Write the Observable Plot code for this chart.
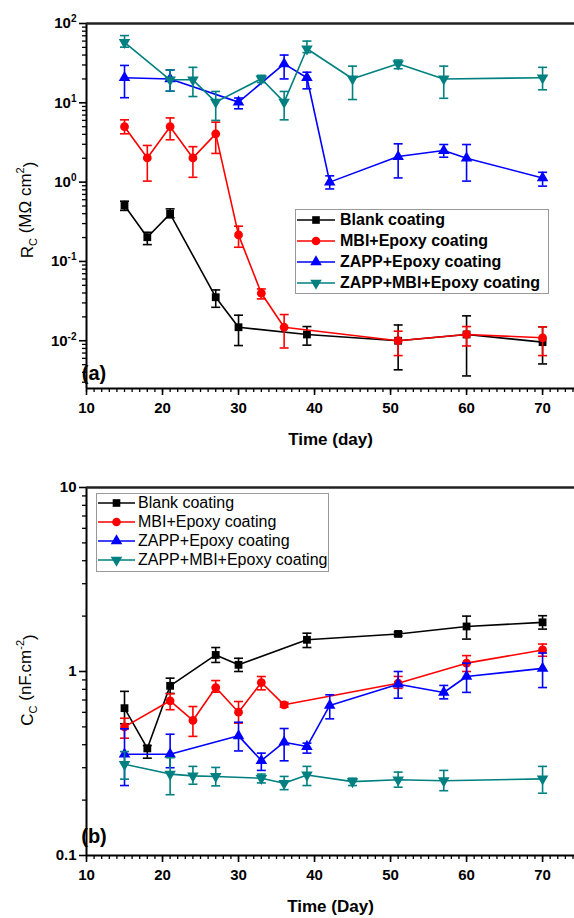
<!DOCTYPE html>
<html><head><meta charset="utf-8">
<script src="https://cdn.jsdelivr.net/npm/d3@7"></script>
<script src="https://cdn.jsdelivr.net/npm/@observablehq/plot@0.6"></script>
<style>
body{margin:0;background:#fff;font-family:"Liberation Sans",Arial,sans-serif;overflow:hidden}
#wrap{position:relative;width:574px;height:918px;overflow:hidden}
.panel{position:absolute;left:0}
.legend{position:absolute;border:1px solid #999;background:#fff;box-sizing:border-box}
.item{position:absolute;left:0;height:20px;white-space:nowrap;color:#000}
.item svg{position:absolute;left:0;top:0}
.item span{position:absolute;top:0;line-height:20px}
</style>
</head><body><div id="wrap"></div>
<script>
const seriesNames = ["Blank coating","MBI+Epoxy coating","ZAPP+Epoxy coating","ZAPP+MBI+Epoxy coating"];
const seriesColors = ["#000000","#ff0000","#0000ff","#008080"];
const seriesSymbols = ["square","circle","triangle","triangle"];
const seriesRotate = [0,0,0,180];

// Panel (a): Rc (MOhm cm2) vs time (day)
const aBlankDay = [15,18,21,27,30,39,51,60,70];
const aBlankV  = [0.507,0.202,0.398,0.0354,0.0148,0.012,0.01,0.012,0.0096];
const aBlankLo = [0.44,0.163,0.355,0.0264,0.0087,0.0088,0.0043,0.0036,0.0051];
const aBlankHi = [0.575,0.233,0.46,0.0437,0.021,0.0151,0.0158,0.0206,0.015];

const aMbiDay = [15,18,21,24,27,30,33,36,51,60,70];
const aMbiV  = [5.0,2.02,5.0,2.02,4.06,0.216,0.0397,0.0148,0.01,0.012,0.0109];
const aMbiLo = [4.07,1.03,3.42,1.15,2.3,0.151,0.0337,0.0081,0.0065,0.0086,0.0065];
const aMbiHi = [6.1,2.9,6.45,2.8,5.7,0.278,0.045,0.0214,0.0132,0.0151,0.015];

const aZappDay = [15,21,30,36,39,42,51,57,60,70];
const aZappV  = [20.7,20,10.2,31,20.7,1.0,2.1,2.5,2.0,1.13];
const aZappLo = [11.6,14,8.4,20,15,0.82,1.13,2.06,1.03,0.89];
const aZappHi = [29.6,26,11.5,40,24.3,1.2,3.04,2.98,2.98,1.33];

const aZmDay = [15,21,24,27,33,36,39,45,51,57,70];
const aZmV  = [58,19.5,19.5,10.2,20.1,10.2,48,20.1,31,20,20.7];
const aZmLo = [50.3,14,12,6,18,6.1,43,11,26.9,11.4,14.6];
const aZmHi = [70.4,26,28,13.9,22.2,13.9,60,29,34.6,29,28];

// Panel (b): Cc (nF cm-2) vs time (day)
const bBlankDay = [15,18,21,27,30,39,51,60,70];
const bBlankV  = [0.632,0.382,0.836,1.23,1.087,1.487,1.60,1.757,1.85];
const bBlankLo = [0.52,0.338,0.76,1.12,1.0,1.35,1.56,1.5,1.70];
const bBlankHi = [0.78,0.396,0.92,1.35,1.18,1.615,1.64,2.0,2.01];

const bMbiDay = [15,21,24,27,30,33,36,51,60,70];
const bMbiV  = [0.50,0.693,0.542,0.818,0.601,0.871,0.659,0.864,1.11,1.31];
const bMbiLo = [0.434,0.62,0.444,0.772,0.524,0.795,0.64,0.81,1.0,1.21];
const bMbiHi = [0.557,0.757,0.645,0.893,0.687,0.939,0.68,0.94,1.22,1.41];

const bZappDay = [15,21,30,33,36,39,42,51,57,60,70];
const bZappV  = [0.355,0.355,0.447,0.328,0.413,0.391,0.654,0.853,0.769,0.939,1.04];
const bZappLo = [0.24,0.30,0.37,0.29,0.327,0.36,0.553,0.716,0.71,0.77,0.818];
const bZappHi = [0.488,0.456,0.53,0.36,0.49,0.408,0.747,1.0,0.84,1.11,1.26];

const bZmDay = [15,21,24,27,33,36,39,45,51,57,70];
const bZmV  = [0.313,0.277,0.271,0.269,0.263,0.247,0.274,0.252,0.258,0.255,0.261];
const bZmLo = [0.26,0.214,0.244,0.239,0.248,0.228,0.24,0.24,0.235,0.225,0.218];
const bZmHi = [0.367,0.34,0.305,0.301,0.277,0.269,0.305,0.263,0.284,0.29,0.305];

const xMajorTicks = [10,20,30,40,50,60,70];
const aYTicks = [0.01,0.1,1,10,100];
const aYTickLabels = ["10^-2","10^-1","10^0","10^1","10^2"];
const bYTicks = [0.1,1,10];
const bYTickLabels = ["0.1","1","10"];

function rows(day, v, lo, hi){ return day.map((d,i)=>({day:d, v:v[i], lo:lo[i], hi:hi[i]})); }
const aSeries = [rows(aBlankDay,aBlankV,aBlankLo,aBlankHi), rows(aMbiDay,aMbiV,aMbiLo,aMbiHi), rows(aZappDay,aZappV,aZappLo,aZappHi), rows(aZmDay,aZmV,aZmLo,aZmHi)];
const bSeries = [rows(bBlankDay,bBlankV,bBlankLo,bBlankHi), rows(bMbiDay,bMbiV,bMbiLo,bMbiHi), rows(bZappDay,bZappV,bZappLo,bZappHi), rows(bZmDay,bZmV,bZmLo,bZmHi)];

const capSym = {draw(ctx){ ctx.moveTo(-4.5,0); ctx.lineTo(4.5,0); }};

function minorTicks(lo, hi){ const out=[]; for(let e=Math.floor(Math.log10(lo)); e<Math.log10(hi); e++){ for(let k=2;k<10;k++){ const v=k*Math.pow(10,e); if(v>=lo && v<=hi) out.push(v);} } return out; }

function seriesMarks(series){
  const m=[];
  series.forEach((data,i)=>{
    const c=seriesColors[i];
    m.push(Plot.line(data,{x:"day",y:"v",stroke:c,strokeWidth:1.6}));
    m.push(Plot.ruleX(data,{x:"day",y1:"lo",y2:"hi",stroke:c,strokeWidth:1.6}));
    m.push(Plot.dot(data,{x:"day",y:"lo",symbol:capSym,stroke:c,fill:"none",strokeWidth:1.6}));
    m.push(Plot.dot(data,{x:"day",y:"hi",symbol:capSym,stroke:c,fill:"none",strokeWidth:1.6}));
    m.push(Plot.dot(data,{x:"day",y:"v",symbol:seriesSymbols[i],rotate:seriesRotate[i],fill:c,stroke:"none",r:i>=2?4.3:4.4}));
  });
  return m;
}

const X_END = 74.2;
function makePanel(series, yDomain, yTicks, yTickLabels, height, mTop, mBottom, xLabel){
  return Plot.plot({
    width:574, height, marginLeft:86, marginRight:0, marginTop:mTop, marginBottom:mBottom,
    style:{fontFamily:"'Liberation Sans', Arial, sans-serif", fontSize:"15px", fontWeight:"bold", color:"#000", background:"#fff", overflow:"visible"},
    x:{domain:[10,X_END]},
    y:{type:"log", domain:yDomain},
    marks:[
      Plot.axisX({ticks:d3.range(10,75,1), tickSize:4, tickFormat:()=>"", strokeWidth:1.3, label:null}),
      Plot.axisX({ticks:xMajorTicks, tickSize:7, tickPadding:7, strokeWidth:1.6, fontSize:15, fontWeight:"bold", label:xLabel, labelAnchor:"center", labelOffset:56, labelArrow:"none"}),
      Plot.axisY({ticks:minorTicks(yDomain[0],yDomain[1]), tickSize:4, tickFormat:()=>"", strokeWidth:1.3, label:null}),
      Plot.axisY({ticks:yTicks, tickSize:7, tickPadding:3, strokeWidth:1.6, tickFormat:(d)=>yTickLabels[yTicks.indexOf(d)], fontSize:15, fontWeight:"bold", label:null}),
      Plot.ruleX([10],{stroke:"#000",strokeWidth:2}),
      Plot.ruleY([yDomain[0]],{stroke:"#000",strokeWidth:2}),
      Plot.ruleY([yDomain[1]],{stroke:"#222",strokeWidth:2.5}),
      ...seriesMarks(series)
    ]
  });
}

const wrap=document.getElementById("wrap");
const pa = makePanel(aSeries,[0.0025,100],aYTicks,aYTickLabels,460,23,72,"Time (day)");
const pb = makePanel(bSeries,[0.1,10],bYTicks,bYTickLabels,458,27,63,"Time (Day)");

function place(svg, top){ const d=document.createElement("div"); d.className="panel"; d.style.top=top+"px"; d.appendChild(svg); wrap.appendChild(d); return svg; }
place(pa,0); place(pb,460);

// superscript tick labels
d3.select(pa).selectAll("text").each(function(){
  const m=this.textContent.match(/^10\^(-?\d)$/);
  if(m){ const s=d3.select(this); s.text(""); s.append("tspan").text("10"); s.append("tspan").attr("dy","-0.6em").attr("font-size","10px").text(m[1]); }
});
[pa,pb].forEach(svg=>{
  d3.select(svg).selectAll("text").filter(function(){return /^Time/.test(this.textContent);}).attr("font-size","17px");
});

function addYTitle(svg, cx, cy, parts){
  const t=d3.select(svg).append("text").attr("transform",`translate(${cx},${cy}) rotate(-90)`).attr("text-anchor","middle").attr("font-size","17px").attr("font-weight","normal").attr("fill","#000");
  parts.forEach(p=>{ const ts=t.append("tspan").text(p.t); if(p.dy) ts.attr("dy",p.dy); if(p.fs) ts.attr("font-size",p.fs); });
}
addYTitle(pa,33,210,[{t:"R"},{t:"C",dy:"0.35em",fs:"11px"},{t:" (M\u03A9 cm",dy:"-0.35em"},{t:"2",dy:"-0.6em",fs:"11px"},{t:")",dy:"0.6em"}]);
addYTitle(pb,33,220,[{t:"C"},{t:"C",dy:"0.35em",fs:"11px"},{t:" (nF.cm",dy:"-0.35em"},{t:"-2",dy:"-0.6em",fs:"11px"},{t:")",dy:"0.6em"}]);

function addPanelTag(svg, x, y, txt){
  d3.select(svg).append("text").attr("x",x).attr("y",y).attr("font-size","20px").attr("font-weight","bold").attr("fill","#000").text(txt);
}
addPanelTag(pa,94,380,"(a)");
addPanelTag(pb,94,383,"(b)");

function legend(left, top, w, h, spacing, padTop, lineW, textX, bold){
  const box=document.createElement("div"); box.className="legend";
  Object.assign(box.style,{left:left+"px",top:top+"px",width:w+"px",height:h+"px"});
  seriesNames.forEach((name,i)=>{
    const it=document.createElement("div"); it.className="item"; it.style.top=(padTop+i*spacing)+"px"; it.style.width=(w-2)+"px";
    const svg=d3.create("svg").attr("width",lineW+4).attr("height",20);
    svg.append("line").attr("x1",1).attr("x2",lineW+1).attr("y1",10).attr("y2",10).attr("stroke",seriesColors[i]).attr("stroke-width",1.6);
    const sym={square:d3.symbolSquare,circle:d3.symbolCircle,triangle:d3.symbolTriangle}[seriesSymbols[i]];
    svg.append("path").attr("d",d3.symbol(sym, Math.PI*4.3*4.3)()).attr("transform",`translate(${lineW/2+1},10) rotate(${seriesRotate[i]})`).attr("fill",seriesColors[i]);
    it.appendChild(svg.node());
    const sp=document.createElement("span"); sp.textContent=name; sp.style.left=textX+"px"; sp.style.fontSize="16px"; sp.style.fontWeight=bold?"bold":"normal";
    it.appendChild(sp); box.appendChild(it);
  });
  wrap.appendChild(box);
}
legend(295,209,254,85,21,0,38,44,true);
legend(96,493,233,79,19,-1,37,41,false);
</script></body></html>
